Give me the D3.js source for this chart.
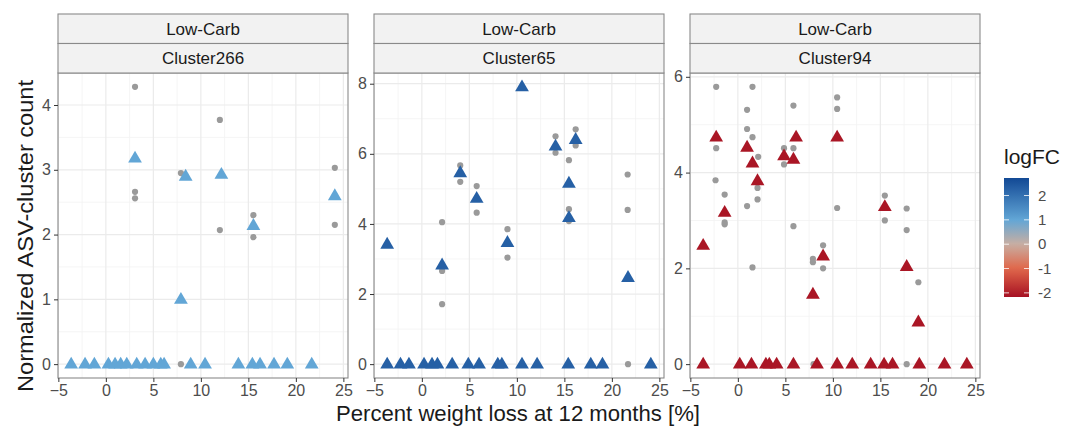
<!DOCTYPE html>
<html>
<head>
<meta charset="utf-8">
<script src="https://cdn.jsdelivr.net/npm/d3@7"></script>
<style>
  body { margin: 0; background: #fff; }
  svg text { font-family: "Liberation Sans", Arial, sans-serif; }
</style>
</head>
<body>
<svg id="chart" width="1075" height="427"></svg>
<script>
// values (x = weight loss %, y = normalized count)
var panelNames = ['Cluster266', 'Cluster65', 'Cluster94'];
var dietLabel = 'Low-Carb';
var panelLogFC = [1.0, 2.3, -2.1];
var xTicks = [-5, 0, 5, 10, 15, 20, 25];
var yTicksList = [[0, 1, 2, 3, 4], [0, 2, 4, 6, 8], [0, 2, 4, 6]];
var legendTicks = [2, 1, 0, -1, -2];

var c266Zero = [-3.65, -2.19, -1.21, 0.27, 0.97, 1.56, 2.2, 3.25, 4.13, 5.0, 5.78, 6.13, 8.93, 10.44, 13.95, 15.42, 16.23, 17.7, 19.1, 21.67];
var c266Tri = [[3.07, 3.18], [8.4, 2.9], [12.16, 2.93], [24.1, 2.6], [15.53, 2.14], [7.9, 1.0]];
var c266Dots = [[3.07, 4.28], [3.07, 2.66], [3.07, 2.56], [12.0, 3.77], [12.0, 2.07], [7.9, 2.95], [24.1, 3.03], [24.1, 2.15], [15.53, 2.3], [15.53, 1.96], [7.9, 0]];

var c65Zero = [-3.65, -2.25, -1.36, 0.23, 1.07, 1.64, 3.19, 4.89, 6.02, 7.99, 8.42, 10.54, 12.13, 15.41, 17.78, 19.01, 24.1];
var c65Tri = [[10.54, 7.91], [14.07, 6.22], [16.19, 6.41], [15.48, 5.16], [4.04, 5.46], [5.77, 4.73], [15.48, 4.18], [-3.65, 3.42], [2.13, 2.83], [9.01, 3.47], [21.7, 2.47]];
var c65Dots = [[14.07, 6.5], [14.07, 6.03], [16.19, 6.7], [16.19, 6.24], [15.48, 5.82], [21.66, 5.41], [4.04, 5.67], [4.04, 5.2], [5.77, 5.08], [5.77, 4.32], [15.48, 4.42], [15.48, 4.08], [21.66, 4.4], [2.13, 4.05], [2.13, 2.66], [2.13, 1.71], [9.01, 3.85], [9.01, 3.04], [21.7, 0]];

var c94Zero = [-3.65, 0.2, 1.43, 2.95, 3.31, 4.08, 5.85, 8.33, 10.45, 12.04, 13.98, 15.39, 16.28, 19.1, 21.75, 24.1];
var c94Tri = [[10.45, 4.74], [-2.28, 4.74], [0.97, 4.53], [1.54, 4.2], [2.07, 3.83], [4.86, 4.35], [5.85, 4.28], [6.13, 4.74], [-1.39, 3.17], [-3.65, 2.48], [15.47, 3.29], [17.77, 2.04], [19.0, 0.88], [7.9, 1.46], [8.97, 2.26]];
var c94Dots = [[-2.28, 5.79], [1.54, 5.79], [0.97, 5.31], [5.85, 5.4], [10.45, 5.57], [10.45, 5.33], [-2.28, 4.51], [0.97, 4.91], [1.54, 4.74], [2.14, 4.33], [2.07, 3.68], [4.86, 4.51], [5.85, 4.51], [4.86, 4.17], [-2.35, 3.84], [-1.39, 3.54], [15.47, 3.52], [0.97, 3.3], [2.07, 3.44], [-1.39, 2.96], [-1.39, 2.92], [1.54, 2.02], [5.85, 2.88], [10.45, 3.26], [15.47, 3.0], [17.77, 3.25], [17.77, 2.8], [19.0, 1.71], [7.9, 2.2], [7.9, 2.13], [8.97, 2.48], [8.97, 2.0], [17.77, 0], [7.97, 0]];

(function () {
  'use strict';

  var svg = d3.select('#chart');
  var panelLeft = [58, 374, 690];
  var panelW = 290;
  var stripTop = 14, stripH = 29.5;
  var plotTop = 73, plotBottom = 378;
  var gridCol = '#ebebeb', borderCol = '#8a8a8a', tickTextCol = '#4d4d4d';

  var tris = [c266Tri, c65Tri, c94Tri];
  var zeros = [c266Zero, c65Zero, c94Zero];
  var dots = [c266Dots, c65Dots, c94Dots];

  // shared x range, 5% expansion like ggplot
  var allX = [];
  for (var k = 0; k < 3; k++) {
    zeros[k].forEach(function (x) { allX.push(x); });
    tris[k].forEach(function (d) { allX.push(d[0]); });
    dots[k].forEach(function (d) { allX.push(d[0]); });
  }
  var xExt = d3.extent(allX);
  var xPad = (xExt[1] - xExt[0]) * 0.05;

  var color = d3.scaleLinear()
    .domain([-2.2, -1, 0, 1, 2.7])
    .range(['#a50f22', '#e0674a', '#c8aea2', '#62a6d6', '#134a96'])
    .interpolate(d3.interpolateRgb);

  var tri = d3.symbol().type(d3.symbolTriangle).size(82);

  panelNames.forEach(function (name, i) {
    var x0 = panelLeft[i];
    var x = d3.scaleLinear().domain([xExt[0] - xPad, xExt[1] + xPad]).range([x0, x0 + panelW]);
    var yMax = d3.max(tris[i].concat(dots[i]), function (d) { return d[1]; });
    var yPad = yMax * 0.05;
    var y = d3.scaleLinear().domain([-yPad, yMax + yPad]).range([plotBottom, plotTop]);
    var yTicks = yTicksList[i];
    var g = svg.append('g');

    // minor grid
    var minorX = xTicks.slice(0, -1).map(function (t) { return t + 2.5; });
    var step = yTicks[1] - yTicks[0];
    var minorY = [];
    for (var m = yTicks[0] + step / 2; m < y.domain()[1]; m += step) minorY.push(m);

    g.selectAll('.mx').data(minorX).enter().append('line')
      .attr('x1', function (d) { return x(d); }).attr('x2', function (d) { return x(d); })
      .attr('y1', plotTop).attr('y2', plotBottom)
      .attr('stroke', '#f3f3f3').attr('stroke-width', 0.8);
    g.selectAll('.my').data(minorY).enter().append('line')
      .attr('y1', function (d) { return y(d); }).attr('y2', function (d) { return y(d); })
      .attr('x1', x0).attr('x2', x0 + panelW)
      .attr('stroke', '#f3f3f3').attr('stroke-width', 0.8);

    // major grid
    g.selectAll('.gx').data(xTicks).enter().append('line')
      .attr('x1', function (d) { return x(d); }).attr('x2', function (d) { return x(d); })
      .attr('y1', plotTop).attr('y2', plotBottom)
      .attr('stroke', gridCol).attr('stroke-width', 1.2);
    g.selectAll('.gy').data(yTicks).enter().append('line')
      .attr('y1', function (d) { return y(d); }).attr('y2', function (d) { return y(d); })
      .attr('x1', x0).attr('x2', x0 + panelW)
      .attr('stroke', gridCol).attr('stroke-width', 1.2);

    // grey points
    g.selectAll('.dot').data(dots[i]).enter().append('circle')
      .attr('cx', function (d) { return x(d[0]); })
      .attr('cy', function (d) { return y(d[1]); })
      .attr('r', 3.1)
      .attr('fill', '#9a9a9a');

    // triangles
    var triData = tris[i].concat(zeros[i].map(function (v) { return [v, 0]; }));
    g.selectAll('.tri').data(triData).enter().append('path')
      .attr('d', tri)
      .attr('transform', function (d) { return 'translate(' + x(d[0]) + ',' + (y(d[1]) + 0.5) + ')'; })
      .attr('fill', color(panelLogFC[i]));

    // panel border
    g.append('rect')
      .attr('x', x0).attr('y', plotTop).attr('width', panelW).attr('height', plotBottom - plotTop)
      .attr('fill', 'none').attr('stroke', borderCol).attr('stroke-width', 1.1);

    // strips
    [dietLabel, name].forEach(function (lab, j) {
      var sy = stripTop + j * stripH;
      g.append('rect')
        .attr('x', x0).attr('y', sy).attr('width', panelW).attr('height', stripH)
        .attr('fill', '#f2f2f2').attr('stroke', borderCol).attr('stroke-width', 1.1);
      g.append('text')
        .attr('x', x0 + panelW / 2).attr('y', sy + stripH / 2 + 6)
        .attr('text-anchor', 'middle').attr('font-size', 17).attr('fill', '#1a1a1a')
        .text(lab);
    });

    // axes
    var xAxis = d3.axisBottom(x).tickValues(xTicks).tickSize(4).tickPadding(3).tickFormat(d3.format('d'));
    var xg = svg.append('g').attr('transform', 'translate(0,' + plotBottom + ')').call(xAxis);
    var yAxis = d3.axisLeft(y).tickValues(yTicks).tickSize(4).tickPadding(3).tickFormat(d3.format('d'));
    var yg = svg.append('g').attr('transform', 'translate(' + x0 + ',0)').call(yAxis);
    [xg, yg].forEach(function (a) {
      a.select('.domain').remove();
      a.selectAll('.tick line').attr('stroke', '#333').attr('stroke-width', 1);
      a.selectAll('.tick text').attr('fill', tickTextCol).attr('font-size', 16)
        .attr('font-family', '"Liberation Sans", Arial, sans-serif');
    });
  });

  // axis titles
  svg.append('text')
    .attr('x', 518).attr('y', 421)
    .attr('text-anchor', 'middle').attr('font-size', 22).attr('fill', '#1a1a1a')
    .attr('textLength', 364).attr('lengthAdjust', 'spacingAndGlyphs')
    .text('Percent weight loss at 12 months [%]');
  svg.append('text')
    .attr('transform', 'translate(33,236) rotate(-90)')
    .attr('text-anchor', 'middle').attr('font-size', 22).attr('fill', '#1a1a1a')
    .attr('textLength', 312).attr('lengthAdjust', 'spacingAndGlyphs')
    .text('Normalized ASV-cluster count');

  // legend
  var legY = d3.scaleLinear().domain([-2.17, 2.72]).range([297, 178]);
  var defs = svg.append('defs');
  var grad = defs.append('linearGradient').attr('id', 'lfc')
    .attr('x1', 0).attr('y1', 1).attr('x2', 0).attr('y2', 0);
  d3.range(0, 1.0001, 0.05).forEach(function (t) {
    var v = legY.domain()[0] + t * (legY.domain()[1] - legY.domain()[0]);
    grad.append('stop').attr('offset', t).attr('stop-color', color(v));
  });
  var lx = 1004, lw = 25;
  svg.append('text').attr('x', lx).attr('y', 164)
    .attr('font-size', 21).attr('fill', '#1a1a1a').text('logFC');
  svg.append('rect').attr('x', lx).attr('y', 178).attr('width', lw).attr('height', 119)
    .attr('fill', 'url(#lfc)');
  var lt = svg.selectAll('.lt').data(legendTicks).enter().append('g');
  lt.append('line').attr('x1', lx).attr('x2', lx + 5)
    .attr('y1', function (d) { return legY(d); }).attr('y2', function (d) { return legY(d); })
    .attr('stroke', '#fff').attr('stroke-opacity', 0.8);
  lt.append('line').attr('x1', lx + lw - 5).attr('x2', lx + lw)
    .attr('y1', function (d) { return legY(d); }).attr('y2', function (d) { return legY(d); })
    .attr('stroke', '#fff').attr('stroke-opacity', 0.8);
  lt.append('text').attr('x', lx + lw + 9).attr('y', function (d) { return legY(d) + 5; })
    .attr('font-size', 15).attr('fill', '#4d4d4d')
    .text(function (d) { return d; });
})();
</script>
</body>
</html>
